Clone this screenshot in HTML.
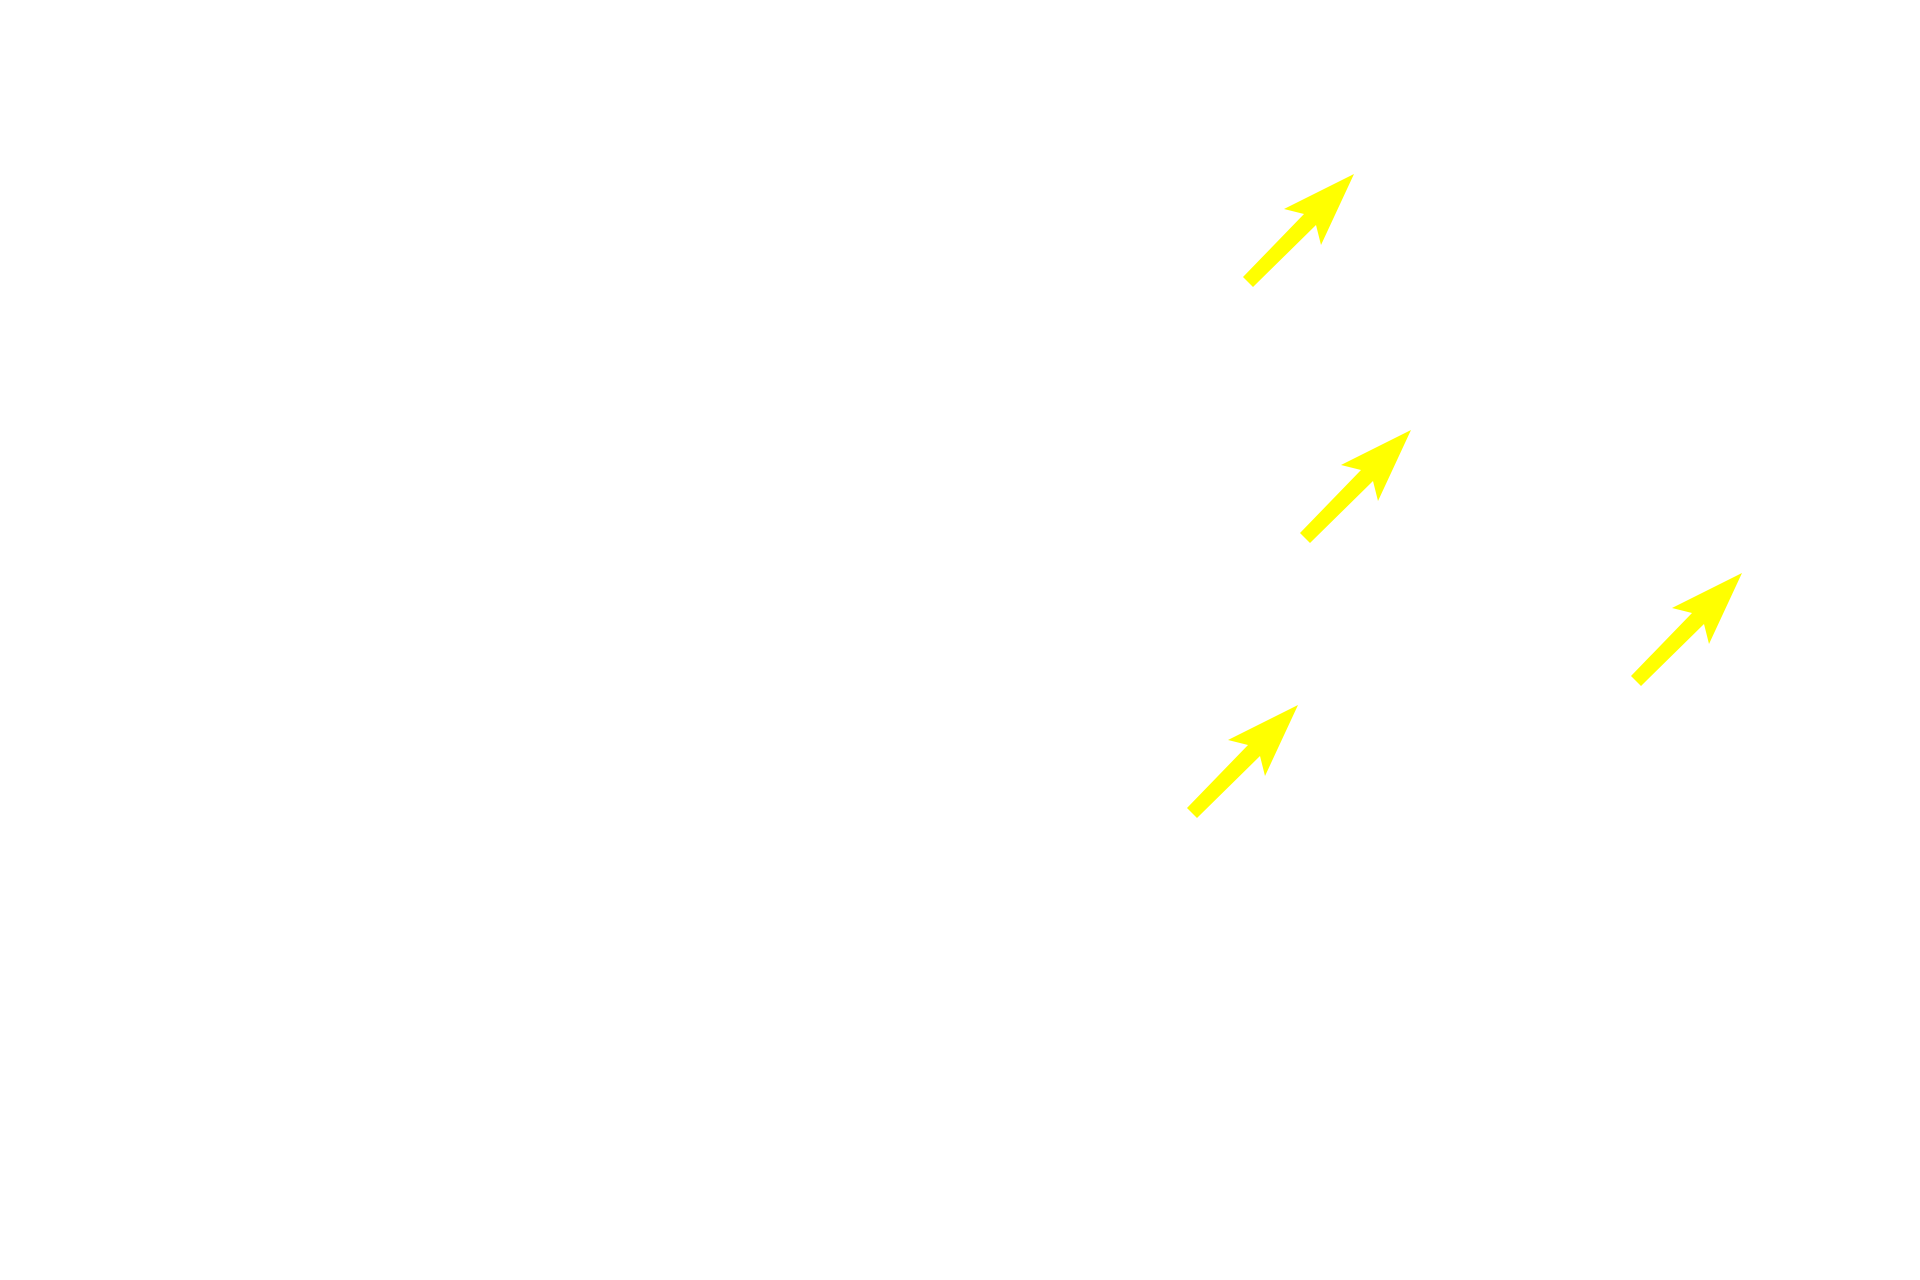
<!DOCTYPE html>
<html><head><style>html,body{margin:0;padding:0;background:#fff;width:1920px;height:1280px;overflow:hidden}</style></head>
<body>
<svg width="1920" height="1280" viewBox="0 0 1920 1280" xmlns="http://www.w3.org/2000/svg">
<defs>
<polygon id="a" points="0,0 -70,35 -50,40 -111,103 -101,113 -38,51 -33,71" fill="#ffff00"/>
</defs>
<use href="#a" transform="translate(1354,174)"/>
<use href="#a" transform="translate(1411,430)"/>
<use href="#a" transform="translate(1742,573)"/>
<use href="#a" transform="translate(1298,705)"/>
</svg>
</body></html>
